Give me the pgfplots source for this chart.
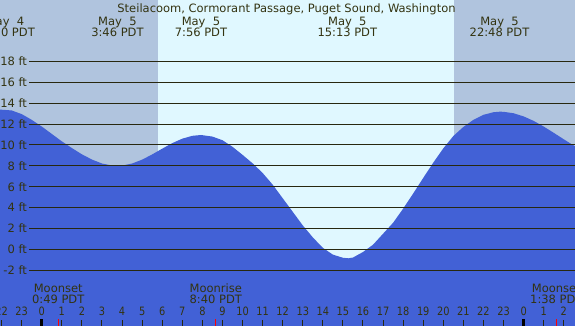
\documentclass[border=0pt]{standalone}
\usepackage{pgfplots}
\pgfplotsset{compat=1.18}
\usepackage{fontspec}
\setmainfont{DejaVu Sans}
\newfontfamily\hourfont{DejaVu Sans}[FakeStretch=0.85]
\definecolor{night}{RGB}{176,196,222}
\definecolor{day}{RGB}{224,248,255}
\definecolor{water}{RGB}{66,97,214}
\definecolor{txt}{RGB}{51,51,17}
\definecolor{gridc}{RGB}{40,40,15}
\tikzset{lab/.style={text=txt, font=\fontsize{11.5}{13}\selectfont, inner sep=0pt, anchor=base},
  hlab/.style={text=txt, font=\hourfont\fontsize{11.5}{13}\selectfont, inner sep=0pt, anchor=base}}
\begin{document}
\begin{tikzpicture}
\begin{axis}[scale only axis, width=575pt, height=326pt,
  xmin=-2.08, xmax=26.56, ymin=-7.33, ymax=23.87,
  axis lines=none, clip=true]
\fill[night] (axis cs:-2.08,-7.33) rectangle (axis cs:5.78,23.87);
\fill[day] (axis cs:5.78,-7.33) rectangle (axis cs:20.53,23.87);
\fill[night] (axis cs:20.53,-7.33) rectangle (axis cs:26.56,23.87);
\addplot[fill=water, draw=none] coordinates {(-2.08,-7.5)
(-2.08,13.38)(-1.5,13.3)(-1,12.95)(-0.5,12.4)(0,11.76)(0.5,11.05)(1,10.34)(1.5,9.7)(2,9.1)(2.5,8.6)(3,8.22)(3.5,8.03)(3.77,8.0)(4,8.02)(4.5,8.22)(5,8.59)(5.5,9.09)(6,9.64)(6.5,10.17)(7,10.6)(7.5,10.87)(7.93,10.95)(8.5,10.8)(9,10.45)(9.5,9.82)(10,9.05)(10.5,8.24)(11,7.32)(11.5,6.2)(12,4.9)(12.5,3.6)(13,2.3)(13.5,1.15)(14,0.15)(14.5,-0.5)(15,-0.8)(15.27,-0.85)(15.5,-0.78)(16,-0.25)(16.5,0.45)(17,1.5)(17.5,2.55)(18,3.9)(18.5,5.35)(19,6.84)(19.5,8.3)(20,9.67)(20.5,10.85)(21,11.72)(21.5,12.4)(22,12.88)(22.5,13.13)(22.82,13.18)(23,13.17)(23.5,13.03)(24,12.73)(24.5,12.3)(25,11.76)(25.5,11.16)(26,10.54)(26.56,9.87)
(26.56,-7.5)} --cycle;
% grid lines and labels
\foreach \v/\l in {18/18,16/16,14/14,12/12,10/10,8/8,6/6,4/4,2/2,0/0,-2/-2}{
  \edef\tmp{\noexpand\draw[gridc, line width=1pt] (axis cs:-0.63,\v) -- (axis cs:26.56,\v);
  \noexpand\node[lab, anchor=east] at (axis cs:-0.73,\v) {\l\noexpand\ ft};}
  \tmp
}
% title and tide labels
\node[lab] at (axis cs:12.19,22.72) {Steilacoom, Cormorant Passage, Puget Sound, Washington};
\node[lab] at (axis cs:-1.83,21.47) {May\ \ 4};
\node[lab] at (axis cs:-1.83,20.42) {22:10 PDT};
\node[lab] at (axis cs:3.77,21.47) {May\ \ 5};
\node[lab] at (axis cs:3.77,20.42) {3:46 PDT};
\node[lab] at (axis cs:7.93,21.47) {May\ \ 5};
\node[lab] at (axis cs:7.93,20.42) {7:56 PDT};
\node[lab] at (axis cs:15.22,21.47) {May\ \ 5};
\node[lab] at (axis cs:15.22,20.42) {15:13 PDT};
\node[lab] at (axis cs:22.8,21.47) {May\ \ 5};
\node[lab] at (axis cs:22.8,20.42) {22:48 PDT};
% moon
\node[lab] at (axis cs:0.82,-4.08) {Moonset};
\node[lab] at (axis cs:0.82,-5.18) {0:49 PDT};
\node[lab] at (axis cs:8.67,-4.08) {Moonrise};
\node[lab] at (axis cs:8.67,-5.18) {8:40 PDT};
\node[lab] at (axis cs:25.63,-4.08) {Moonset};
\node[lab] at (axis cs:25.63,-5.18) {1:38 PDT};
% hour labels and ticks
\foreach \h/\l in {-2/22,-1/23,0/0,1/1,2/2,3/3,4/4,5/5,6/6,7/7,8/8,9/9,10/10,11/11,12/12,13/13,14/14,15/15,16/16,17/17,18/18,19/19,20/20,21/21,22/22,23/23,24/0,25/1,26/2}{
  \edef\tmp{\noexpand\node[hlab] at (axis cs:\h,-6.37) {\l};
  \noexpand\draw[gridc, line width=1pt] (axis cs:\h,-6.76) -- (axis cs:\h,-7.4);}
  \tmp
}
\draw[black, line width=3pt] (axis cs:0,-6.70) -- (axis cs:0,-7.4);
\draw[black, line width=3pt] (axis cs:24,-6.70) -- (axis cs:24,-7.4);
\draw[red, line width=1pt] (axis cs:0.82,-6.70) -- (axis cs:0.82,-7.4);
\draw[red, line width=1pt] (axis cs:8.67,-6.70) -- (axis cs:8.67,-7.4);
\draw[red, line width=1pt] (axis cs:25.63,-6.70) -- (axis cs:25.63,-7.4);
\end{axis}
\pgfresetboundingbox
\path (current axis.south west) rectangle (current axis.north east);
\end{tikzpicture}
\end{document}
